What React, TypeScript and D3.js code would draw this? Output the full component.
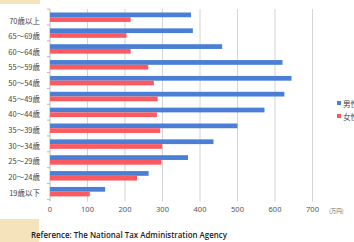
import * as d3 from 'd3'
import { useEffect, useRef } from 'react'

const ages = ['70歳以上', '65〜69歳', '60〜64歳', '55〜59歳', '50〜54歳', '45〜49歳', '40〜44歳', '35〜39歳', '30〜34歳', '25〜29歳', '20〜24歳', '19歳以下']
const male = [376, 381, 459, 620, 644, 625, 572, 500, 436, 368, 263, 147]
const female = [215, 204, 215, 262, 277, 287, 285, 294, 299, 297, 232, 106]
const seriesNames = ['男性', '女性']
const colors = ['#4a7fd5', '#fd5a5f']
const xTicks = [0, 100, 200, 300, 400, 500, 600, 700]

const W = 354
const H = 242

const App = () => {
    const svgRef = useRef(null) as any

    useEffect(() => {
        const svg = d3.select(svgRef.current)
        svg.selectAll('*').remove()

        svg.append('rect').attr('width', W).attr('height', H).attr('fill', '#fff')
        // beige decorations
        svg.append('rect').attr('x', 0).attr('y', 0).attr('width', 40).attr('height', 4).attr('fill', '#f4e3bb')
        svg.append('rect').attr('x', 0).attr('y', 219).attr('width', 39).attr('height', 23).attr('fill', '#f4e3bb')

        const x = d3.scaleLinear().domain([0, 700]).range([50, 312.5])
        const y = d3.scaleBand().domain(ages).range([9.1, 199.4]).padding(0)
        const sub = d3.scaleBand().domain(seriesNames).range([3.4, y.bandwidth() - 3.0]).padding(0)
        const labelY = d3.scalePoint().domain(ages).range([20, 192.3])

        // gridlines
        svg.append('g').selectAll('line')
            .data(xTicks)
            .join('line')
            .attr('x1', d => x(d)).attr('x2', d => x(d))
            .attr('y1', 9).attr('y2', 201.5)
            .attr('stroke', (d) => d === 0 ? '#bbb' : '#d4d4d4')
            .attr('stroke-width', 1)

        // y tick marks between categories
        const bounds = ages.map(a => y(a) as number).concat([(y(ages[ages.length - 1]) as number) + y.bandwidth()])
        svg.append('g').selectAll('line')
            .data(bounds)
            .join('line')
            .attr('x1', 47).attr('x2', 50)
            .attr('y1', d => d).attr('y2', d => d)
            .attr('stroke', '#bbb')

        const data = [male, female]
        data.forEach((vals, si) => {
            svg.append('g').selectAll('rect')
                .data(vals)
                .join('rect')
                .attr('x', x(0))
                .attr('y', (_d, i) => (y(ages[i]) as number) + (sub(seriesNames[si]) as number))
                .attr('width', d => x(d) - x(0))
                .attr('height', sub.bandwidth())
                .attr('fill', colors[si])
        })

        // category labels
        svg.append('g').selectAll('text')
            .data(ages)
            .join('text')
            .attr('x', 40)
            .attr('y', d => labelY(d) as number)
            .attr('text-anchor', 'end')
            .attr('dominant-baseline', 'central')
            .attr('font-family', '"Noto Sans CJK JP", sans-serif')
            .attr('font-size', 7.5)
            .attr('fill', '#444')
            .text(d => d)

        // x tick labels
        svg.append('g').selectAll('text')
            .data(xTicks)
            .join('text')
            .attr('x', d => x(d))
            .attr('y', 212)
            .attr('text-anchor', 'middle')
            .attr('font-family', '"Noto Sans", sans-serif')
            .attr('font-size', 7.5)
            .attr('fill', '#555')
            .text(d => d)

        svg.append('text')
            .attr('x', 329).attr('y', 212.5)
            .attr('font-family', '"Noto Sans CJK JP", sans-serif')
            .attr('font-size', 5.5)
            .attr('fill', '#666')
            .text('(万円)')

        // legend
        const legend = svg.append('g')
        seriesNames.forEach((n, i) => {
            legend.append('rect')
                .attr('x', 337).attr('y', 101 + i * 13)
                .attr('width', 4).attr('height', 4)
                .attr('fill', colors[i])
            legend.append('text')
                .attr('x', 343).attr('y', 103 + i * 13)
                .attr('dominant-baseline', 'central')
                .attr('font-family', '"Noto Sans CJK JP", sans-serif')
                .attr('font-size', 7.5)
                .attr('fill', '#444')
                .text(n)
        })

        svg.append('text')
            .attr('x', 31).attr('y', 237.5)
            .attr('font-family', '"Open Sans", sans-serif')
            .attr('font-size', 9)
            .attr('font-weight', 600)
            .attr('fill', '#222')
            .attr('textLength', 196)
            .attr('lengthAdjust', 'spacingAndGlyphs')
            .text('Reference: The National Tax Administration Agency')
    }, [])

    return (
        <svg ref={svgRef} width={W} height={H} style={{ position: 'absolute', left: 0, top: 0 }} />
    )
}

export default App
